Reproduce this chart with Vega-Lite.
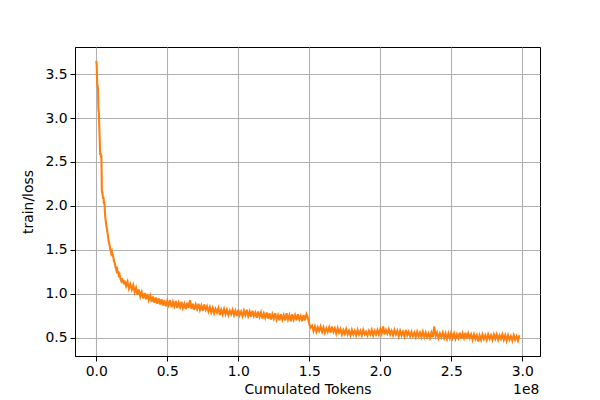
{
  "$schema": "https://vega.github.io/schema/vega-lite/v6.json",
  "width": 465,
  "height": 309,
  "autosize": {"type": "none"},
  "padding": {"left": 75, "top": 47, "right": 60, "bottom": 44},
  "config": {
    "font": "DejaVu Sans",
    "view": {"stroke": "black", "strokeWidth": 1},
    "axis": {
      "grid": true, "gridColor": "#b0b0b0", "gridWidth": 1.1,
      "domainColor": "black", "domainWidth": 1,
      "tickColor": "black", "tickSize": 5, "tickWidth": 1,
      "labelColor": "black", "labelFontSize": 13.9, "labelPadding": 3,
      "titleColor": "black", "titleFontSize": 13.9, "titleFontWeight": "normal"
    }
  },
  "data": {"values": [
    {"t":0.000,"l":3.65},{"t":0.003,"l":3.60},{"t":0.006,"l":3.40},{"t":0.009,"l":3.36},{"t":0.012,"l":3.34},
    {"t":0.015,"l":3.10},{"t":0.018,"l":3.06},{"t":0.021,"l":2.90},{"t":0.024,"l":2.75},{"t":0.027,"l":2.58},
    {"t":0.030,"l":2.60},{"t":0.033,"l":2.55},{"t":0.036,"l":2.58},{"t":0.039,"l":2.18},{"t":0.042,"l":2.15},
    {"t":0.045,"l":2.12},{"t":0.048,"l":2.08},{"t":0.051,"l":2.10},{"t":0.054,"l":2.02},{"t":0.057,"l":2.05},
    {"t":0.060,"l":1.95},{"t":0.063,"l":1.88},{"t":0.066,"l":1.84},{"t":0.069,"l":1.80},{"t":0.072,"l":1.76},
    {"t":0.075,"l":1.74},{"t":0.078,"l":1.70},{"t":0.081,"l":1.68},{"t":0.085,"l":1.62},{"t":0.090,"l":1.58},
    {"t":0.095,"l":1.54},{"t":0.100,"l":1.50},{"t":0.105,"l":1.46},{"t":0.110,"l":1.48},{"t":0.115,"l":1.44},
    {"t":0.120,"l":1.42},{"t":0.125,"l":1.37},{"t":0.130,"l":1.35},{"t":0.135,"l":1.31},{"t":0.140,"l":1.28},
    {"t":0.145,"l":1.31},{"t":0.150,"l":1.23},{"t":0.155,"l":1.26},{"t":0.160,"l":1.19},{"t":0.165,"l":1.21},
    {"t":0.170,"l":1.17},{"t":0.175,"l":1.15},{"t":0.180,"l":1.18},{"t":0.185,"l":1.13},{"t":0.190,"l":1.16},
    {"t":0.195,"l":1.11},
    {"t":0.20,"l":1.15},{"t":0.21,"l":1.09},{"t":0.22,"l":1.14},{"t":0.23,"l":1.06},{"t":0.24,"l":1.11},
    {"t":0.25,"l":1.05},{"t":0.26,"l":1.10},{"t":0.27,"l":1.02},{"t":0.28,"l":1.07},{"t":0.29,"l":0.99},
    {"t":0.30,"l":1.05},{"t":0.31,"l":0.97},{"t":0.32,"l":1.02},{"t":0.33,"l":0.95},{"t":0.34,"l":1.01},
    {"t":0.35,"l":0.94},{"t":0.36,"l":1.00},{"t":0.37,"l":0.93},{"t":0.38,"l":0.98},{"t":0.39,"l":0.91},
    {"t":0.40,"l":0.97},{"t":0.41,"l":0.90},{"t":0.42,"l":0.96},{"t":0.43,"l":0.89},{"t":0.44,"l":0.95},
    {"t":0.45,"l":0.88},{"t":0.46,"l":0.94},{"t":0.47,"l":0.87},{"t":0.48,"l":0.93},{"t":0.49,"l":0.86},
    {"t":0.50,"l":0.92},{"t":0.51,"l":0.87},{"t":0.52,"l":0.93},{"t":0.53,"l":0.85},{"t":0.54,"l":0.91},
    {"t":0.55,"l":0.86},{"t":0.56,"l":0.92},{"t":0.57,"l":0.84},{"t":0.58,"l":0.90},{"t":0.59,"l":0.85},
    {"t":0.60,"l":0.91},{"t":0.61,"l":0.84},{"t":0.62,"l":0.89},{"t":0.63,"l":0.83},{"t":0.64,"l":0.90},
    {"t":0.65,"l":0.84},{"t":0.66,"l":0.93},{"t":0.67,"l":0.83},{"t":0.68,"l":0.89},{"t":0.69,"l":0.82},
    {"t":0.70,"l":0.88},{"t":0.71,"l":0.83},{"t":0.72,"l":0.89},{"t":0.73,"l":0.82},{"t":0.74,"l":0.87},
    {"t":0.75,"l":0.81},{"t":0.76,"l":0.88},{"t":0.77,"l":0.82},{"t":0.78,"l":0.86},{"t":0.79,"l":0.80},
    {"t":0.80,"l":0.85},{"t":0.81,"l":0.79},{"t":0.82,"l":0.84},{"t":0.83,"l":0.78},{"t":0.84,"l":0.83},
    {"t":0.85,"l":0.79},{"t":0.86,"l":0.84},{"t":0.87,"l":0.76},{"t":0.88,"l":0.82},{"t":0.89,"l":0.77},
    {"t":0.90,"l":0.83},{"t":0.91,"l":0.77},{"t":0.92,"l":0.82},{"t":0.93,"l":0.76},{"t":0.94,"l":0.81},
    {"t":0.95,"l":0.77},{"t":0.96,"l":0.82},{"t":0.97,"l":0.76},{"t":0.98,"l":0.81},{"t":0.99,"l":0.75},
    {"t":1.00,"l":0.82},{"t":1.01,"l":0.76},{"t":1.02,"l":0.80},{"t":1.03,"l":0.75},{"t":1.04,"l":0.81},
    {"t":1.05,"l":0.76},{"t":1.06,"l":0.82},{"t":1.07,"l":0.75},{"t":1.08,"l":0.80},{"t":1.09,"l":0.74},
    {"t":1.10,"l":0.81},{"t":1.11,"l":0.75},{"t":1.12,"l":0.79},{"t":1.13,"l":0.73},{"t":1.14,"l":0.80},
    {"t":1.15,"l":0.74},{"t":1.16,"l":0.79},{"t":1.17,"l":0.72},{"t":1.18,"l":0.78},{"t":1.19,"l":0.73},
    {"t":1.20,"l":0.79},{"t":1.21,"l":0.72},{"t":1.22,"l":0.78},{"t":1.23,"l":0.71},{"t":1.24,"l":0.77},
    {"t":1.25,"l":0.72},{"t":1.26,"l":0.78},{"t":1.27,"l":0.71},{"t":1.28,"l":0.76},{"t":1.29,"l":0.70},
    {"t":1.30,"l":0.77},{"t":1.31,"l":0.71},{"t":1.32,"l":0.76},{"t":1.33,"l":0.70},{"t":1.34,"l":0.78},
    {"t":1.35,"l":0.71},{"t":1.36,"l":0.76},{"t":1.37,"l":0.69},{"t":1.38,"l":0.77},{"t":1.39,"l":0.71},
    {"t":1.40,"l":0.76},{"t":1.41,"l":0.70},{"t":1.42,"l":0.77},{"t":1.43,"l":0.71},{"t":1.44,"l":0.75},
    {"t":1.45,"l":0.69},{"t":1.46,"l":0.76},{"t":1.47,"l":0.70},{"t":1.48,"l":0.77},{"t":1.49,"l":0.73},
    {"t":1.50,"l":0.66},{"t":1.51,"l":0.62},{"t":1.52,"l":0.64},{"t":1.53,"l":0.58},{"t":1.54,"l":0.63},
    {"t":1.55,"l":0.57},{"t":1.56,"l":0.62},{"t":1.57,"l":0.58},{"t":1.58,"l":0.63},{"t":1.59,"l":0.57},
    {"t":1.60,"l":0.62},{"t":1.61,"l":0.56},{"t":1.62,"l":0.61},{"t":1.63,"l":0.57},{"t":1.64,"l":0.62},
    {"t":1.65,"l":0.56},{"t":1.66,"l":0.63},{"t":1.67,"l":0.57},{"t":1.68,"l":0.61},{"t":1.69,"l":0.55},
    {"t":1.70,"l":0.61},{"t":1.71,"l":0.56},{"t":1.72,"l":0.60},{"t":1.73,"l":0.54},{"t":1.74,"l":0.59},
    {"t":1.75,"l":0.55},{"t":1.76,"l":0.60},{"t":1.77,"l":0.54},{"t":1.78,"l":0.58},{"t":1.79,"l":0.53},
    {"t":1.80,"l":0.59},{"t":1.81,"l":0.54},{"t":1.82,"l":0.58},{"t":1.83,"l":0.53},{"t":1.84,"l":0.59},
    {"t":1.85,"l":0.54},{"t":1.86,"l":0.58},{"t":1.87,"l":0.53},{"t":1.88,"l":0.59},{"t":1.89,"l":0.54},
    {"t":1.90,"l":0.57},{"t":1.91,"l":0.53},{"t":1.92,"l":0.58},{"t":1.93,"l":0.54},{"t":1.94,"l":0.59},
    {"t":1.95,"l":0.53},{"t":1.96,"l":0.58},{"t":1.97,"l":0.54},{"t":1.98,"l":0.59},{"t":1.99,"l":0.54},
    {"t":2.00,"l":0.60},{"t":2.01,"l":0.55},{"t":2.02,"l":0.63},{"t":2.03,"l":0.54},{"t":2.04,"l":0.59},
    {"t":2.05,"l":0.55},{"t":2.06,"l":0.60},{"t":2.07,"l":0.54},{"t":2.08,"l":0.58},{"t":2.09,"l":0.53},
    {"t":2.10,"l":0.59},{"t":2.11,"l":0.54},{"t":2.12,"l":0.58},{"t":2.13,"l":0.52},{"t":2.14,"l":0.58},
    {"t":2.15,"l":0.53},{"t":2.16,"l":0.57},{"t":2.17,"l":0.52},{"t":2.18,"l":0.59},{"t":2.19,"l":0.53},
    {"t":2.20,"l":0.57},{"t":2.21,"l":0.52},{"t":2.22,"l":0.57},{"t":2.23,"l":0.52},{"t":2.24,"l":0.56},
    {"t":2.25,"l":0.51},{"t":2.26,"l":0.57},{"t":2.27,"l":0.52},{"t":2.28,"l":0.56},{"t":2.29,"l":0.51},
    {"t":2.30,"l":0.57},{"t":2.31,"l":0.51},{"t":2.32,"l":0.56},{"t":2.33,"l":0.51},{"t":2.34,"l":0.55},
    {"t":2.35,"l":0.50},{"t":2.36,"l":0.56},{"t":2.37,"l":0.51},{"t":2.38,"l":0.63},{"t":2.39,"l":0.52},
    {"t":2.40,"l":0.56},{"t":2.41,"l":0.50},{"t":2.42,"l":0.55},{"t":2.43,"l":0.51},{"t":2.44,"l":0.56},
    {"t":2.45,"l":0.50},{"t":2.46,"l":0.55},{"t":2.47,"l":0.49},{"t":2.48,"l":0.55},{"t":2.49,"l":0.50},
    {"t":2.50,"l":0.56},{"t":2.51,"l":0.50},{"t":2.52,"l":0.55},{"t":2.53,"l":0.49},{"t":2.54,"l":0.54},
    {"t":2.55,"l":0.50},{"t":2.56,"l":0.56},{"t":2.57,"l":0.49},{"t":2.58,"l":0.55},{"t":2.59,"l":0.50},
    {"t":2.60,"l":0.56},{"t":2.61,"l":0.49},{"t":2.62,"l":0.55},{"t":2.63,"l":0.50},{"t":2.64,"l":0.54},
    {"t":2.65,"l":0.48},{"t":2.66,"l":0.54},{"t":2.67,"l":0.49},{"t":2.68,"l":0.53},{"t":2.69,"l":0.46},
    {"t":2.70,"l":0.53},{"t":2.71,"l":0.48},{"t":2.72,"l":0.54},{"t":2.73,"l":0.49},{"t":2.74,"l":0.53},
    {"t":2.75,"l":0.48},{"t":2.76,"l":0.54},{"t":2.77,"l":0.49},{"t":2.78,"l":0.53},{"t":2.79,"l":0.48},
    {"t":2.80,"l":0.54},{"t":2.81,"l":0.49},{"t":2.82,"l":0.54},{"t":2.83,"l":0.48},{"t":2.84,"l":0.53},
    {"t":2.85,"l":0.49},{"t":2.86,"l":0.54},{"t":2.87,"l":0.48},{"t":2.88,"l":0.53},{"t":2.89,"l":0.47},
    {"t":2.90,"l":0.53},{"t":2.91,"l":0.48},{"t":2.92,"l":0.52},{"t":2.93,"l":0.47},{"t":2.94,"l":0.53},
    {"t":2.95,"l":0.48},{"t":2.96,"l":0.52},{"t":2.97,"l":0.47},{"t":2.98,"l":0.53}
  ]},
  "layer": [
    {
      "mark": {"type": "line", "color": "#ff7f0e", "strokeWidth": 2.1, "clip": true},
      "encoding": {
        "x": {
          "field": "t", "type": "quantitative", "title": "Cumulated Tokens",
          "scale": {"domain": [-0.15, 3.125], "nice": false, "zero": false},
          "axis": {"values": [0, 0.5, 1, 1.5, 2, 2.5, 3], "format": ".1f", "titlePadding": 5}
        },
        "y": {
          "field": "l", "type": "quantitative", "title": "train/loss",
          "scale": {"domain": [0.295, 3.807], "nice": false, "zero": false},
          "axis": {"values": [0.5, 1, 1.5, 2, 2.5, 3, 3.5], "format": ".1f", "titlePadding": 9}
        }
      }
    },
    {
      "data": {"values": [{"label": "1e8"}]},
      "mark": {"type": "text", "align": "right", "baseline": "alphabetic", "dy": 38, "fontSize": 13.9, "color": "black"},
      "encoding": {
        "x": {"datum": 3.12, "type": "quantitative"},
        "y": {"datum": 0.295, "type": "quantitative"},
        "text": {"field": "label"}
      }
    }
  ]
}
